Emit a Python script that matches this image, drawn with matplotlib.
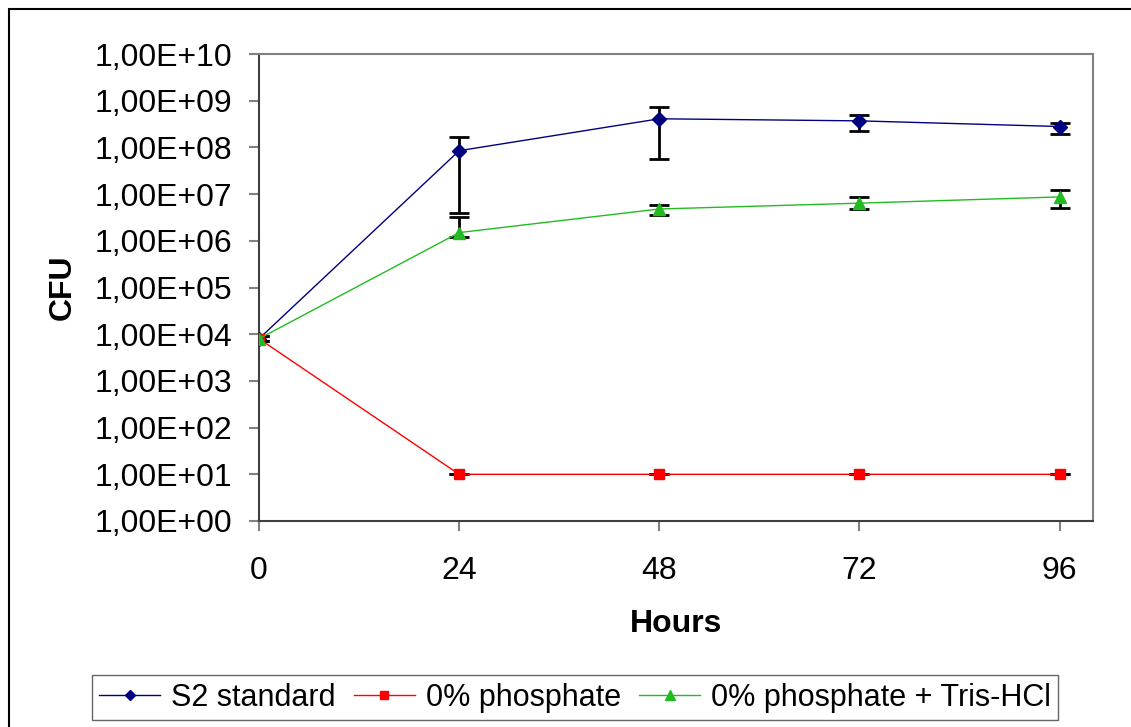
import numpy as np
import matplotlib
matplotlib.use('Agg')
import matplotlib.pyplot as plt
import matplotlib.ticker as mticker
from matplotlib.patches import Rectangle

plt.rcParams['font.family'] = ['Liberation Sans', 'DejaVu Sans']

hours = [0, 24, 48, 72, 96]

s2 = [8.0e3, 8.5e7, 4.1e8, 3.7e8, 2.8e8]
s2_low = [7.0e3, 4.0e6, 5.6e7, 2.2e8, 1.94e8]
s2_high = [9.0e3, 1.66e8, 7.4e8, 4.9e8, 3.4e8]

phos0 = [8.0e3, 10, 10, 10, 10]
phos0_low = [7.0e3, 10, 10, 10, 10]
phos0_high = [9.0e3, 10, 10, 10, 10]

tris = [8.0e3, 1.5e6, 4.8e6, 6.4e6, 8.7e6]
tris_low = [7.0e3, 1.2e6, 3.6e6, 4.8e6, 5.0e6]
tris_high = [9.0e3, 3.3e6, 5.9e6, 8.8e6, 1.23e7]

labels = ['S2 standard', '0% phosphate', '0% phosphate + Tris-HCl']
colors = ['#000080', '#FF0000', '#22BB22']
markers = ['D', 's', '^']
msizes = [7, 7, 9]


def err(vals, low, high):
    v = np.array(vals)
    return [v - np.array(low), np.array(high) - v]


fig = plt.figure(figsize=(11.31, 7.27), dpi=100)
ax = fig.add_axes([259 / 1131, 1 - 521 / 727, (1093 - 259) / 1131, (521 - 54) / 727])

series = [(s2, s2_low, s2_high), (phos0, phos0_low, phos0_high), (tris, tris_low, tris_high)]
handles = []
for (vals, lo, hi), lab, c, m, ms in zip(series, labels, colors, markers, msizes):
    ax.errorbar(hours, vals, yerr=err(vals, lo, hi), fmt='none', ecolor='black',
                elinewidth=2, capsize=7, capthick=2, zorder=2)
    h, = ax.plot(hours, vals, color=c, lw=1, marker=m, markersize=ms,
                 markerfacecolor=c, markeredgecolor=c, label=lab, zorder=3)
    handles.append(h)

ax.set_yscale('log')
ax.set_ylim(1, 1e10)
ax.set_xlim(0, 100)
ax.set_xticks(hours)
ax.yaxis.set_major_locator(mticker.LogLocator(base=10, numticks=12))
ax.yaxis.set_minor_locator(mticker.NullLocator())
ax.yaxis.set_major_formatter(mticker.FuncFormatter(lambda v, p: f"{v:.2E}".replace('.', ',')))

for side in ['left', 'bottom']:
    ax.spines[side].set_color('#404040')
    ax.spines[side].set_linewidth(1.5)
for side in ['top', 'right']:
    ax.spines[side].set_color('#808080')
    ax.spines[side].set_linewidth(1.5)
ax.tick_params(axis='both', direction='out', length=7, width=1.5, color='#808080',
               labelsize=23, pad=12)
ax.tick_params(axis='x', pad=18)

ax.set_xlabel('Hours', fontsize=23, fontweight='bold', labelpad=17)
ax.set_ylabel('CFU', fontsize=23, fontweight='bold', labelpad=12)

fig.legend(handles=handles, loc='upper center', bbox_to_anchor=(575 / 1131, 1 - 675 / 727),
           ncol=3, fontsize=22, frameon=True, fancybox=False, edgecolor='#404040',
           handlelength=2.0, handletextpad=0.35, columnspacing=0.6, borderpad=0.25,
           borderaxespad=0, markerscale=0.8)

fig.patches.append(Rectangle((9 / 1131, -0.1), 1.2, 1 - 9 / 727 + 0.1, transform=fig.transFigure,
                             fill=False, edgecolor='black', lw=1.5))

fig.savefig('out.png', dpi=100)
